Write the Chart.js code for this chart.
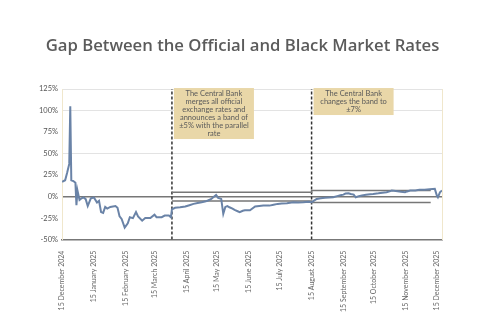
<!DOCTYPE html>
<html>
<head>
<meta charset="utf-8">
<script src="https://cdn.jsdelivr.net/npm/chart.js@4.4.1/dist/chart.umd.min.js"></script>
<style>
    html, body { margin: 0; padding: 0; background: #fff; }
    #wrap { width: 480px; height: 320px; position: relative; }
</style>
</head>
<body>
<div id="wrap"><canvas id="gapChart"></canvas></div>
<script>
// days counted from 15 December 2024
const monthTicks = [0, 31, 62, 90, 121, 151, 182, 212, 243, 274, 304, 335, 365];
const monthLabels = [
    '15 December 2024', '15 January 2025', '15 February 2025', '15 March 2025',
    '15 April 2025', '15 May 2025', '15 June 2025', '15 July 2025',
    '15 August 2025', '15 September 2025', '15 October 2025', '15 November 2025',
    '15 December 2025',
];
const yTicks = [-50, -25, 0, 25, 50, 75, 100, 125];

const gapDays = [
    0, 3, 5, 7, 8, 9, 11, 13, 14, 15, 17, 19, 21, 23, 25, 28, 31, 34, 36, 38,
    40, 42, 44, 47, 52, 54, 56, 58, 61, 64, 66, 69, 72, 74, 78, 81, 86, 90, 92, 97,
    100, 104, 106, 107, 110, 115, 120, 124, 128, 132, 136, 140, 142, 145, 147, 150, 152, 155, 157, 159,
    161, 163, 166, 168, 171, 173, 176, 178, 183, 188, 192, 196, 202, 206, 210, 214, 219, 225, 230, 235,
    240, 243, 245, 248, 252, 256, 260, 264, 268, 271, 274, 276, 279, 281, 284, 286, 289, 292, 296, 300,
    303, 308, 312, 316, 319, 321, 325, 330, 334, 336, 339, 344, 348, 353, 358, 363, 365, 366, 368, 370,
];
const gapValues = [
    17, 19, 28, 38, 105, 19, 18, 16, -10, 7, -4, -2, -1, -3, -11, -2, -1, -7, -5, -18,
    -19, -12, -14, -12, -11, -13, -23, -26, -36, -31, -24, -25, -18, -23, -28, -25, -25, -21, -24, -24,
    -22, -22, -24, -15, -13, -12.5, -11.6, -10, -8.5, -7.5, -6.6, -5.5, -4.6, -3, -1, 2, -1.5, -2.7, -20, -12,
    -11, -12.4, -14, -15.5, -17, -18, -16.5, -16, -16, -11.6, -11, -10.5, -10.5, -9.5, -8.5, -8, -7.8, -6.6, -6.8, -6.6,
    -6, -6.6, -5, -2.7, -2, -1.5, -1.2, -0.8, 0.5, 1.5, 2.3, 3.5, 3.9, 3, 2.3, -0.8, 0.5, 1.2, 2, 2.8,
    3.1, 3.8, 4.5, 5, 6, 7, 6.5, 5.5, 5, 6, 7, 7.2, 7.8, 8, 8.5, 9, 1.2, -0.8, 5, 7,
];

const eventDays = [107, 243];
const bandDays = [107, 243, 243, 359];
const bandUpper = [5, 5, 7, 7];
const bandLower = [-5, -5, -7, -7];

const eventNotes = [
    ['The Central Bank', 'merges all official', 'exchange rates and', 'announces a band of', '±5% with the parallel', 'rate'],
    ['The Central Bank', 'changes the band to', '±7%'],
];

const LINE_BLUE = '#6a83a7';
const DARK_GREY = '#777777';
const BEIGE = '#e9d7a8';
const EDGE = '#f0e7cc';

const toPoints = (xs, ys) => xs.map((x, i) => ({ x, y: ys[i] }));

const eventNotesPlugin = {
    id: 'eventNotes',
    afterDatasetsDraw(chart) {
        const { ctx, chartArea, scales } = chart;
        const lh = 8;
        ctx.save();
        ctx.font = '7.5px Lato';
        ctx.textAlign = 'center';
        ctx.textBaseline = 'middle';
        eventNotes.forEach((lines, i) => {
            const left = scales.x.getPixelForValue(eventDays[i]) + 2;
            const w = 80;
            const top = chartArea.top - 1;
            const h = (lines.length - 1) * lh + 11;
            ctx.fillStyle = BEIGE;
            ctx.fillRect(left, top, w, h);
            ctx.fillStyle = '#5a5a5a';
            lines.forEach((t, j) => ctx.fillText(t, left + w / 2, top + 5.5 + j * lh));
        });
        ctx.restore();
    },
};

function gridColor(v) {
    if (v === 0) return DARK_GREY;
    if (v === 125 || v === 100 || v === 50) return '#e3e3e3';
    return 'rgba(0,0,0,0)';
}

const datasets = [
    {
        data: toPoints(gapDays, gapValues),
        borderColor: LINE_BLUE,
        borderWidth: 2,
        tension: 0,
    },
    {
        data: toPoints(bandDays, bandUpper),
        borderColor: DARK_GREY,
        borderWidth: 1.5,
    },
    {
        data: toPoints(bandDays, bandLower),
        borderColor: DARK_GREY,
        borderWidth: 1.5,
    },
];
eventDays.forEach((d) => {
    datasets.push({
        data: [{ x: d, y: -50 }, { x: d, y: 125 }],
        borderColor: '#333333',
        borderWidth: 1.5,
        borderDash: [3, 2],
    });
});
datasets.forEach((ds) => {
    ds.showLine = true;
    ds.pointRadius = 0;
    ds.fill = false;
});

new Chart(document.getElementById('gapChart').getContext('2d'), {
    type: 'scatter',
    data: { datasets },
    options: {
        responsive: true,
        maintainAspectRatio: false,
        animation: false,
        layout: { padding: { left: 35, right: 30, top: 0, bottom: 5 } },
        plugins: {
            legend: { display: false },
            tooltip: { enabled: false },
            title: {
                display: true,
                text: 'Gap Between the Official and Black Market Rates',
                color: '#5b5b5b',
                font: { family: 'Open Sans', size: 16.7, weight: '600' },
                padding: { top: 36, bottom: 33 },
            },
        },
        scales: {
            x: {
                type: 'linear',
                min: 0,
                max: 370,
                afterBuildTicks: (axis) => { axis.ticks = monthTicks.map((v) => ({ value: v })); },
                ticks: {
                    autoSkip: false,
                    minRotation: 90,
                    maxRotation: 90,
                    padding: 3,
                    color: '#666',
                    font: { family: "'Liberation Sans Narrow', Lato", size: 7 },
                    callback: (v) => monthLabels[monthTicks.indexOf(v)],
                },
                grid: { display: false },
                border: { color: DARK_GREY, width: 1.5 },
            },
            y: {
                min: -50,
                max: 125,
                afterBuildTicks: (axis) => { axis.ticks = yTicks.map((v) => ({ value: v })); },
                ticks: {
                    padding: 4,
                    color: '#555',
                    font: { family: 'Lato', size: 7.5 },
                    callback: (v) => v + '%',
                },
                grid: {
                    drawTicks: false,
                    color: (ctx) => gridColor(ctx.tick.value),
                    lineWidth: (ctx) => (ctx.tick.value === 0 ? 1.5 : 1),
                },
                border: { color: EDGE, width: 1 },
            },
            y2: {
                position: 'right',
                ticks: { display: false },
                grid: { display: false },
                border: { color: EDGE, width: 1 },
            },
        },
    },
    plugins: [eventNotesPlugin],
});
</script>
</body>
</html>
